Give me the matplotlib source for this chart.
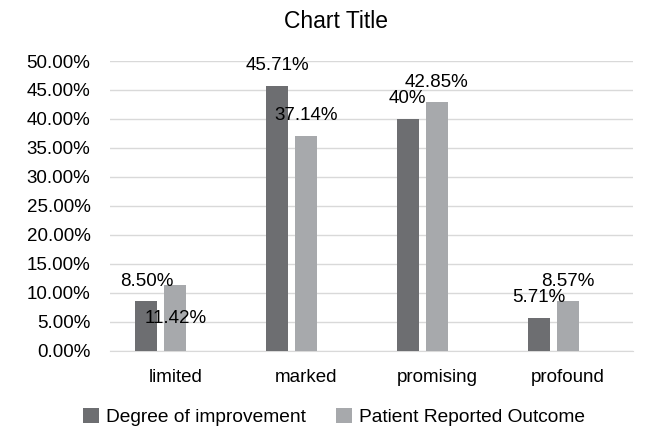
import matplotlib.pyplot as plt
import numpy as np
from matplotlib.ticker import PercentFormatter

plt.rcParams['font.family'] = ['Liberation Sans', 'DejaVu Sans']

categories = ["limited", "marked", "promising", "profound"]
improvement = [8.50, 45.71, 40.00, 5.71]
patient = [11.42, 37.14, 42.85, 8.57]
improvement_labels = ["8.50%", "45.71%", "40%", "5.71%"]
patient_labels = ["11.42%", "37.14%", "42.85%", "8.57%"]

dark = "#6d6e71"
light = "#a7a9ac"

fig = plt.figure(figsize=(6.54, 4.34), dpi=100)
ax = fig.add_axes([110/654, 1 - 350.7/434, 523/654, (350.7 - 61)/434])

x = np.arange(len(categories))
w = 0.168
b1 = ax.bar(x - 0.222, improvement, w, color=dark, label="Degree of improvement", zorder=3)
b2 = ax.bar(x, patient, w, color=light, label="Patient Reported Outcome", zorder=3)

# data labels (one of them was dragged down into the bar)
for rect, lab in zip(b1, improvement_labels):
    ax.annotate(lab, (rect.get_x() + rect.get_width() / 2, rect.get_height()),
                xytext=(0, 14.4), textcoords="offset points",
                ha="center", va="center", fontsize=13.5, zorder=4)
for i, (rect, lab) in enumerate(zip(b2, patient_labels)):
    dy = -24.5 if i == 0 else 14.4
    ax.annotate(lab, (rect.get_x() + rect.get_width() / 2, rect.get_height()),
                xytext=(0, dy), textcoords="offset points",
                ha="center", va="center", fontsize=13.5, zorder=4)

ax.set_xlim(-0.5, 3.5)
ax.set_ylim(0, 50)
ax.set_yticks(np.arange(0, 50.1, 5))
ax.yaxis.set_major_formatter(PercentFormatter(decimals=2))
ax.set_xticks(x)
ax.set_xticklabels(categories)
ax.tick_params(axis="both", length=0, labelsize=13.5, colors="#000000")
ax.tick_params(axis="x", pad=13)
ax.tick_params(axis="y", pad=14)

ax.grid(axis="y", color="#d9d9d9", linewidth=1, zorder=0)
for s in ["top", "right", "left"]:
    ax.spines[s].set_visible(False)
ax.spines["bottom"].set_color("#d9d9d9")

fig.text(336/654, 1 - 21/434, "Chart Title", ha="center", va="center", fontsize=16.5)

fig.legend(loc="center", bbox_to_anchor=(334/654, 1 - 417/434), ncol=2, frameon=False,
           fontsize=13.75, handlelength=0.84, handleheight=0.84, handletextpad=0.37,
           columnspacing=1.57, borderpad=0)

fig.savefig("out.png", dpi=100)
